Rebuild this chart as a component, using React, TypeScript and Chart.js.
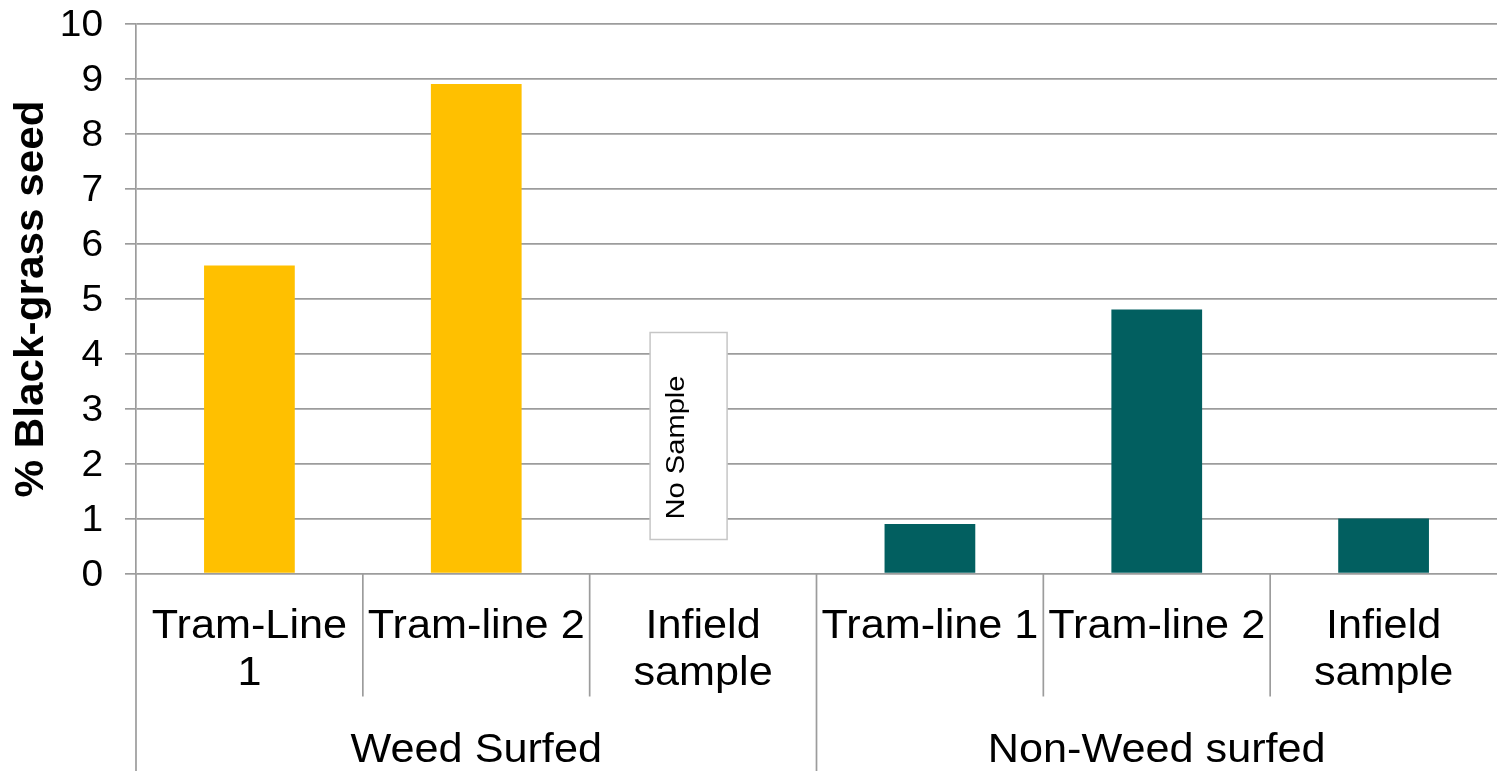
import React, { useEffect, useRef } from "react";
import { Chart, registerables } from "chart.js";

Chart.register(...registerables);

// Sub-categories on the x axis (one entry per text line)
const categoryLabels: string[][] = [
  ["Tram-Line", "1"],
  ["Tram-line 2"],
  ["Infield", "sample"],
  ["Tram-line 1"],
  ["Tram-line 2"],
  ["Infield", "sample"],
];

// Outer groups: name and how many sub-categories each spans
const groupNames = ["Weed Surfed", "Non-Weed surfed"];
const groupSizes = [3, 3];

// % black-grass seed per sample (null = no sample taken)
const seedPercent: (number | null)[] = [5.6, 8.9, null, 0.9, 4.8, 1.0];

const barColors = ["#FFC000", "#FFC000", "#FFC000", "#025F60", "#025F60", "#025F60"];

const yTicks = [0, 1, 2, 3, 4, 5, 6, 7, 8, 9, 10];
const yTitle = "% Black-grass seed";

const noSampleText = "No Sample";
const noSampleIndex = 2;

const FONT = "'Liberation Sans', Arial, Helvetica, sans-serif";
const GRID = "#9c9c9c";
// the text in this chart is set slightly wide
const TEXT_STRETCH = 1.08;

function wideText(ctx: CanvasRenderingContext2D, text: string, x: number, y: number) {
  ctx.save();
  ctx.translate(x, y);
  ctx.scale(TEXT_STRETCH, 1);
  ctx.fillText(text, 0, 0);
  ctx.restore();
}

const multiLevelAxis = {
  id: "multiLevelAxis",
  afterDraw(chart: any) {
    const { ctx, chartArea, scales } = chart;
    const x = scales.x;
    const y = scales.y;
    const bottom = chartArea.bottom;
    const H = chart.height;
    const step = x.getPixelForValue(1) - x.getPixelForValue(0);

    ctx.save();

    // dividers between categories and groups
    ctx.strokeStyle = GRID;
    ctx.lineWidth = 1.7;
    const groupEnds = new Set<number>();
    let acc = 0;
    groupSizes.forEach((n) => {
      acc += n;
      groupEnds.add(acc);
    });
    for (let i = 1; i < categoryLabels.length; i++) {
      const px = x.getPixelForValue(i) - step / 2;
      const isGroup = groupEnds.has(i);
      ctx.beginPath();
      ctx.moveTo(px, bottom);
      ctx.lineTo(px, isGroup ? H : bottom + 123);
      ctx.stroke();
    }
    // value axis line continues down past the category rows
    ctx.beginPath();
    ctx.moveTo(chartArea.left, bottom);
    ctx.lineTo(chartArea.left, H);
    ctx.stroke();

    ctx.fillStyle = "#000";
    ctx.textBaseline = "alphabetic";

    // y tick labels
    ctx.font = `36px ${FONT}`;
    ctx.textAlign = "right";
    yTicks.forEach((v) => {
      wideText(ctx, String(v), chartArea.left - 33, y.getPixelForValue(v) + 12);
    });

    // y title
    ctx.save();
    ctx.translate(32, (chartArea.top + chartArea.bottom) / 2 + 0.5);
    ctx.rotate(-Math.PI / 2);
    ctx.font = `bold 40px ${FONT}`;
    ctx.textAlign = "center";
    ctx.textBaseline = "middle";
    const tw = ctx.measureText(yTitle).width;
    ctx.scale(397 / tw, 1);
    ctx.fillText(yTitle, 0, 0);
    ctx.restore();

    // category labels
    ctx.font = `40px ${FONT}`;
    ctx.textAlign = "center";
    categoryLabels.forEach((lines, i) => {
      const cx = x.getPixelForValue(i);
      lines.forEach((line, j) => {
        wideText(ctx, line, cx, bottom + 64.5 + j * 47);
      });
    });

    // group labels
    let start = 0;
    groupNames.forEach((name, g) => {
      const end = start + groupSizes[g] - 1;
      const cx = (x.getPixelForValue(start) + x.getPixelForValue(end)) / 2;
      wideText(ctx, name, cx, bottom + 188);
      start += groupSizes[g];
    });

    // "No Sample" note in place of the missing bar
    const bx = x.getPixelForValue(noSampleIndex) - 14.5;
    const by = y.getPixelForValue(2.5);
    const bw = 77;
    const bh = 207;
    ctx.fillStyle = "#fff";
    ctx.fillRect(bx - bw / 2, by - bh / 2, bw, bh);
    ctx.strokeStyle = "#c6c6c6";
    ctx.lineWidth = 1.5;
    ctx.strokeRect(bx - bw / 2, by - bh / 2, bw, bh);
    ctx.translate(bx, by);
    ctx.rotate(-Math.PI / 2);
    ctx.fillStyle = "#000";
    ctx.font = `26px ${FONT}`;
    ctx.textAlign = "center";
    ctx.textBaseline = "alphabetic";
    const nw = ctx.measureText(noSampleText).width;
    ctx.translate(-11.5, -4.5);
    ctx.scale(144 / nw, 1);
    ctx.fillText(noSampleText, 0, 0);

    ctx.restore();
  },
};

export default function App() {
  const canvasRef = useRef<HTMLCanvasElement | null>(null);

  useEffect(() => {
    const canvas = canvasRef.current;
    if (!canvas) return;
    const chart = new Chart(canvas, {
      type: "bar",
      data: {
        labels: categoryLabels.map((l) => l.join(" ")),
        datasets: [
          {
            data: seedPercent,
            backgroundColor: barColors,
            borderWidth: 0,
            barPercentage: 0.4,
            categoryPercentage: 1,
          },
        ],
      },
      options: {
        animation: false,
        responsive: false,
        devicePixelRatio: 1,
        events: [],
        layout: { padding: { top: 23.5, bottom: 197.5, left: 0, right: 0 } },
        plugins: {
          legend: { display: false },
          tooltip: { enabled: false },
        },
        scales: {
          x: {
            display: false,
          },
          y: {
            min: 0,
            max: 10,
            afterFit(scale: any) {
              scale.width = 136;
            },
            afterBuildTicks(scale: any) {
              scale.ticks = yTicks.map((v) => ({ value: v }));
            },
            grid: {
              color: GRID,
              lineWidth: 1.7,
              tickLength: 11,
              drawTicks: true,
            },
            border: { display: true, color: GRID, width: 1.7 },
            ticks: { display: false },
            title: { display: false },
          },
        },
      },
      plugins: [multiLevelAxis],
    });
    return () => chart.destroy();
  }, []);

  return (
    <div style={{ position: "fixed", left: 0, top: 0, width: 1497, height: 771, background: "#fff" }}>
      <canvas ref={canvasRef} width={1497} height={771} style={{ display: "block" }} />
    </div>
  );
}
